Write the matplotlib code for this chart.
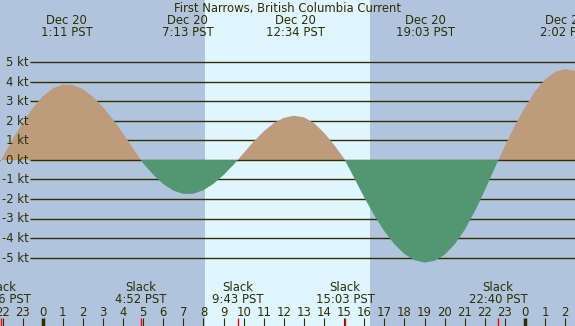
import numpy as np
import matplotlib
matplotlib.use("Agg")
import matplotlib.pyplot as plt

# ---------------- data ----------------
title = "First Narrows, British Columbia Current"
sample_hours = np.arange(-2.5, 26.75, 0.5)   # hours from Dec 20 00:00 PST
current_kt = [-0.80, 0.13, 1.05, 1.91, 2.66,
              3.26, 3.67, 3.87, 3.84, 3.63, 3.24, 2.71, 2.08, 1.36, 0.58,
              -0.17, -0.75, -1.24, -1.57, -1.74, -1.73, -1.55, -1.22, -0.77, -0.24,
              0.35, 0.95, 1.47, 1.89, 2.16, 2.27, 2.19, 1.89, 1.40, 0.77,
              0.07, -0.92, -1.92, -2.84, -3.65, -4.32, -4.82, -5.14, -5.26, -5.17,
              -4.86, -4.33, -3.58, -2.64, -1.56, -0.40, 0.72, 1.77, 2.71, 3.52,
              4.13, 4.52, 4.66, 4.57]

peak_hours = [1.183, 7.217, 12.567, 19.05, 26.033]
peak_dates = ["Dec 20", "Dec 20", "Dec 20", "Dec 20", "Dec 21"]
peak_times = ["1:11 PST", "7:13 PST", "12:34 PST", "19:03 PST", "2:02 PST"]

slack_hours = [-2.067, 4.867, 9.717, 15.05, 22.667]
slack_times = ["21:56 PST", "4:52 PST", "9:43 PST", "15:03 PST", "22:40 PST"]

sunrise, sunset = 8.076, 16.29
kt_levels = [5, 4, 3, 2, 1, 0, -1, -2, -3, -4, -5]
hour_ticks = list(range(-2, 27))
hour_labels = [str(h % 24) for h in hour_ticks]

# ---------------- style ----------------
W, H = 575, 326
night = "#b0c4de"
day = "#dff6ff"
tan = "#bd9b7b"
green = "#529672"
ink = "#2e2e00"
fs = 8.4

x0_px, px_per_h = 42.7, 20.096
y0_px, px_per_kt = 160.0, 19.5


def ky(py):
    return (y0_px - py) / px_per_kt


def hx(px):
    return (px - x0_px) / px_per_h


fig = plt.figure(figsize=(W / 100, H / 100), dpi=100)
ax = fig.add_axes([0, 0, 1, 1])
ax.set_xlim(hx(0), hx(W))
ax.set_ylim(ky(H), ky(0))
ax.axis("off")

ax.axvspan(hx(0) - 1, hx(W) + 1, color=night, zorder=0, lw=0)
ax.axvspan(sunrise, sunset, color=day, zorder=0.5, lw=0)

t = np.asarray(sample_hours)
v = np.asarray(current_kt)

xl = hx(30)
for k in kt_levels:
    ax.plot([xl, hx(W) + 1], [k, k], color=ink, lw=1.0, zorder=1 if k != 0 else 3,
            solid_capstyle="butt")
    ax.text(hx(28.5), k - 4 / px_per_kt, f"{k} kt", ha="right", va="baseline",
            fontsize=fs, color=ink, zorder=6)

ax.fill_between(t, v, 0, where=v >= 0, interpolate=True, color=tan, lw=0, zorder=2)
ax.fill_between(t, v, 0, where=v <= 0, interpolate=True, color=green, lw=0, zorder=4)

# title and peak labels
ax.text(hx(287), ky(12), title, ha="center", va="baseline", fontsize=fs, color=ink, zorder=6)
for h, d, tm in zip(peak_hours, peak_dates, peak_times):
    ax.text(h, ky(24), d, ha="center", va="baseline", fontsize=fs, color=ink, zorder=6)
    ax.text(h, ky(36), tm, ha="center", va="baseline", fontsize=fs, color=ink, zorder=6)

# slack labels
for h, tm in zip(slack_hours, slack_times):
    ax.text(h, ky(291), "Slack", ha="center", va="baseline", fontsize=fs, color=ink, zorder=6)
    ax.text(h, ky(303.3), tm, ha="center", va="baseline", fontsize=fs, color=ink, zorder=6)

# hour axis
for h, lab in zip(hour_ticks, hour_labels):
    midnight = (h % 24 == 0)
    ax.plot([h, h], [ky(318), ky(327)], color=ink, lw=2.5 if midnight else 0.8,
            solid_capstyle="butt", zorder=6)
    ax.text(h, ky(315.7), lab, ha="center", va="baseline", fontsize=fs, color=ink, zorder=6)
for h in slack_hours:
    ax.plot([h, h], [ky(318), ky(327)], color="#ff0000", lw=1.0,
            solid_capstyle="butt", zorder=7)

fig.savefig("out.png", dpi=100)
